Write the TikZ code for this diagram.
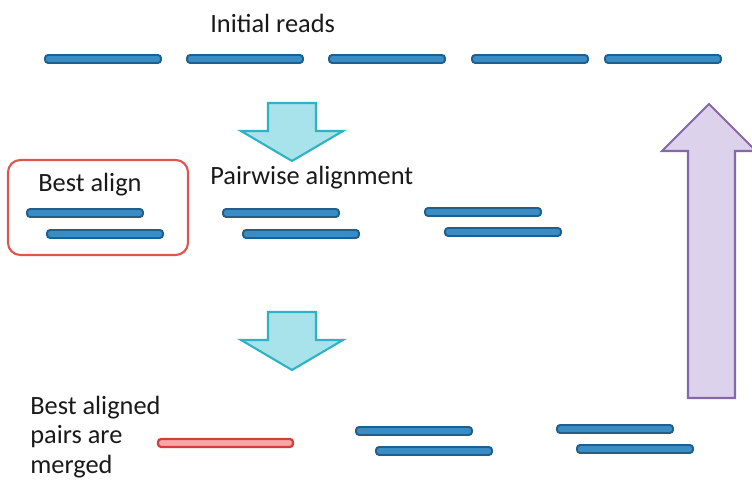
\documentclass[tikz,border=0pt]{standalone}
\usepackage{fontspec}
\setmainfont{Carlito}
\usetikzlibrary{calc}
\definecolor{readfill}{HTML}{3A8CC4}
\definecolor{readline}{HTML}{1F5F8E}
\definecolor{cyanfill}{HTML}{A8E2EA}
\definecolor{cyanline}{HTML}{2DB3C3}
\definecolor{purplefill}{HTML}{DDD2EC}
\definecolor{purpleline}{HTML}{8468A8}
\definecolor{boxred}{HTML}{E0544E}
\definecolor{mergeline}{HTML}{D23F3A}
\definecolor{mergefill}{HTML}{F3AAA7}
\tikzset{
	lbl/.style={font=\fontsize{15}{17}\selectfont, inner sep=0pt, text=black!90},
	read/.style={draw=readline, fill=readfill, line width=1.1pt, rounded corners=1.8pt},
	merged/.style={draw=mergeline, fill=mergefill, line width=1.3pt, rounded corners=1.8pt},
	downarrow/.style={draw=cyanline, fill=cyanfill, line width=1.2pt, line join=miter},
	uparrow/.style={draw=purpleline, fill=purplefill, line width=1.2pt, line join=miter},
	redbox/.style={draw=boxred, line width=1.2pt, rounded corners=7pt}
}
% one read: left end x, centre y (px)
\def\readbar[#1](#2,#3){\draw[#1] (#2,#3-4) rectangle ++(116,8);}
% block arrow pointing down: centre x, shaft top y
\def\downblock(#1,#2){\draw[downarrow] (#1-24,#2) -- (#1+24,#2) -- (#1+24,#2+28) -- (#1+51,#2+28) -- (#1,#2+58) -- (#1-51,#2+28) -- (#1-24,#2+28) -- cycle;}

\begin{document}
\begin{tikzpicture}[x=0.02cm, y=-0.02cm]
		\useasboundingbox (0,0) rectangle (752,482);
		%%%%% START %%%%%
		\node[lbl, anchor=west] (initial) at (210,23) {Initial reads};
		\foreach \x in {45,187,329,472,605}{
			\readbar[read](\x,59)
		}
		
		\downblock(292,103)
		
		\draw[redbox] (8,160) rectangle (188,255);
		\node[lbl, anchor=west] (bestalign) at (38,185) {Best align};
		\node[lbl, anchor=west] (pairwise) at (210,178) {Pairwise alignment};
		\readbar[read](27,213)
		\readbar[read](47,234)
		\readbar[read](223,213)
		\readbar[read](243,234)
		\readbar[read](425,212)
		\readbar[read](445,232)
		
		\downblock(292,312)
		
		\node[lbl, anchor=west, align=left] (mergetext) at (30,437) {Best aligned\\pairs are\\merged};
		\draw[merged] (158,439) rectangle (293,447);
		\readbar[read](356,431)
		\readbar[read](376,451)
		\readbar[read](557,429)
		\readbar[read](577,449)
		
		\draw[uparrow] (688,398) -- (688,151) -- (662,151) -- (709,104) -- (756,151) -- (735,151) -- (735,398) -- cycle;
		%%%%% END %%%%%
	\end{tikzpicture}
\end{document}
